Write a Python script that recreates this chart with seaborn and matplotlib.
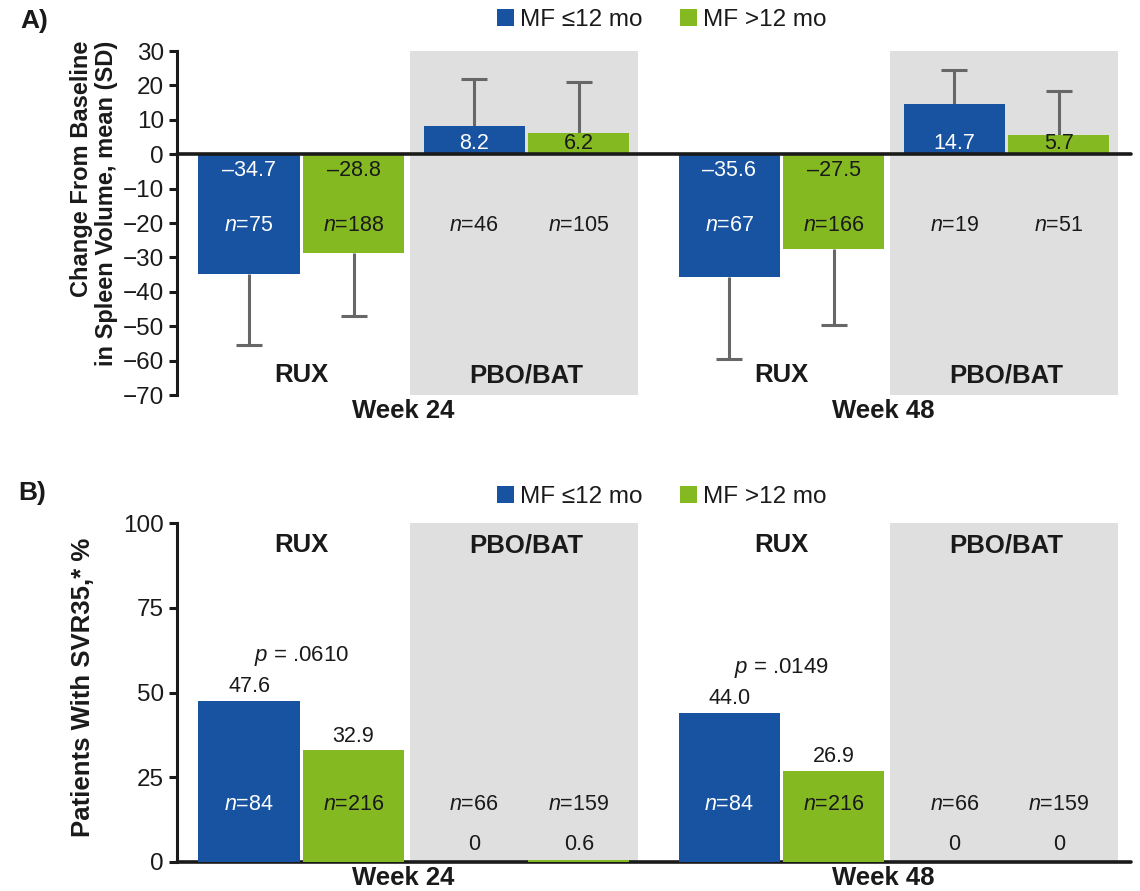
import numpy as np
import pandas as pd
import matplotlib
matplotlib.use("Agg")
import matplotlib.pyplot as plt
import seaborn as sns

# ---------------------------------------------------------------- data
weeks = ["Week 24", "Week 48"]
arms = ["RUX", "PBO/BAT"]
groups = ["MF ≤12 mo", "MF >12 mo"]

# A) change from baseline in spleen volume, mean (SD)
# order: week 24 RUX (≤12, >12), week 24 PBO/BAT, week 48 RUX, week 48 PBO/BAT
svc_mean = [-34.7, -28.8, 8.2, 6.2, -35.6, -27.5, 14.7, 5.7]
svc_sd = [20.8, 18.2, 13.8, 14.8, 24.0, 22.2, 9.9, 12.6]
svc_n = [75, 188, 46, 105, 67, 166, 19, 51]

# B) patients with SVR35, %
svr_pct = [47.6, 32.9, 0.0, 0.6, 44.0, 26.9, 0.0, 0.0]
svr_n = [84, 216, 66, 159, 84, 216, 66, 159]
p_values = [".0610", ".0149"]

# ---------------------------------------------------------------- style
BLUE = "#1753a0"
GREEN = "#84b922"
GRAY = "#e0dfe0"
ERR = "#676767"
INK = "#1a1a1a"

sns.set_theme(style="white")
plt.rcParams.update({
    "font.family": ["Liberation Sans", "DejaVu Sans"],
    "mathtext.fontset": "custom",
    "mathtext.rm": "Liberation Sans",
    "mathtext.it": "Liberation Sans:italic",
    "mathtext.bf": "Liberation Sans:bold",
    "text.color": INK,
})

# slot layout along x: gaps between neighbouring bars
pair_gap, arm_gap, week_gap = 1.0, 1.155, 1.44
steps = [0, pair_gap, arm_gap, pair_gap, week_gap, pair_gap, arm_gap, pair_gap]
slot_x = np.cumsum(steps).astype(float)
BAR_W = 0.967
XLIM = (-0.689, 8.44)

rows = []
for i in range(8):
    rows.append({
        "x": slot_x[i],
        "week": weeks[i // 4],
        "arm": arms[(i // 2) % 2],
        "group": groups[i % 2],
        "mean": svc_mean[i],
        "sd": svc_sd[i],
        "n_a": svc_n[i],
        "pct": svr_pct[i],
        "n_b": svr_n[i],
    })
df = pd.DataFrame(rows)
palette = {groups[0]: BLUE, groups[1]: GREEN}

fig = plt.figure(figsize=(11.4, 8.91), dpi=100)
L, W = 177 / 1140, (1131 - 177) / 1140
axA = fig.add_axes([L, 1 - 395 / 891, W, (395 - 51) / 891])
axB = fig.add_axes([L, 1 - 862 / 891, W, (862 - 523) / 891])


def shade_arms(ax):
    for wk in range(2):
        b = slot_x[wk * 4 + 2]
        g = slot_x[wk * 4 + 3]
        ax.axvspan(b - BAR_W / 2 - 0.13, g + BAR_W / 2 + 0.08,
                   color=GRAY, lw=0, zorder=0)


def style_axis(ax, ylim, yticks, zero_z):
    ax.set_xlim(*XLIM)
    ax.set_ylim(*ylim)
    ax.set_yticks(yticks)
    ax.set_xticks([])
    ax.set_xlabel("")
    ax.set_ylabel("")
    ax.set_facecolor("none")
    for s in ["top", "right", "bottom"]:
        ax.spines[s].set_visible(False)
    ax.spines["left"].set_linewidth(2.2)
    ax.spines["left"].set_color(INK)
    ax.tick_params(axis="y", left=True, direction="out", length=5.5,
                   width=2.2, pad=4, labelsize=17.5, colors=INK)
    ax.axhline(0, color=INK, lw=2.6, zorder=zero_z, clip_on=False)


def add_legend(ax, y):
    sns.move_legend(ax, "center", bbox_to_anchor=(0.508, y), ncol=2,
                    title=None, frameon=False, fontsize=17.5,
                    handlelength=0.7, handleheight=0.7, handletextpad=0.25,
                    columnspacing=1.55, borderaxespad=0)


def week_labels(ax):
    for wk in range(2):
        cx = slot_x[wk * 4: wk * 4 + 4].mean() - 0.1
        ax.annotate(weeks[wk], xy=(cx, 0), xycoords=("data", "axes fraction"),
                    xytext=(0, -11.5), textcoords="offset points",
                    ha="center", va="center", fontsize=18.5, fontweight="bold")


def arm_labels(ax, y):
    for wk in range(2):
        for a in range(2):
            i = wk * 4 + a * 2
            ax.text(slot_x[i: i + 2].mean(), y, arms[a], ha="center",
                    va="center", fontsize=18.5, fontweight="bold", zorder=5)


# ---------------------------------------------------------------- panel A
shade_arms(axA)
sns.barplot(data=df, x="x", y="mean", hue="group", hue_order=groups,
            palette=palette, native_scale=True, dodge=False, width=BAR_W,
            errorbar=None, saturation=1, linewidth=0, ax=axA, zorder=2)

xs = df["x"].to_numpy()
m = df["mean"].to_numpy()
s = df["sd"].to_numpy()
for sign, keep in ((-1, 0), (1, 1)):
    sel = np.sign(m) == sign
    lower = s[sel] if sign < 0 else np.zeros(sel.sum())
    upper = s[sel] if sign > 0 else np.zeros(sel.sum())
    cont = axA.errorbar(xs[sel], m[sel], yerr=[lower, upper], fmt="none",
                        ecolor=ERR, elinewidth=2.2, capsize=9.5,
                        capthick=2.2, zorder=1.5)
    cont.lines[1][1 - keep].set_visible(False)

N_Y_A = -20.8
for _, r in df.iterrows():
    blue = r["group"] == groups[0]
    txt = f"{r['mean']:.1f}".replace("-", "\u2013")
    vy = -4.7 if r["mean"] < 0 else 3.2
    axA.text(r["x"], vy, txt, ha="center", va="center", fontsize=15.5,
             color="white" if blue else INK, zorder=5)
    covered = r["mean"] < N_Y_A
    axA.text(r["x"], N_Y_A, f"$n$={r['n_a']}", ha="center", va="center",
             fontsize=15.5, color="white" if (blue and covered) else INK,
             zorder=5)

style_axis(axA, (-70, 30), np.arange(-70, 31, 10), zero_z=4)
arm_labels(axA, -64.2)
week_labels(axA)
add_legend(axA, 1.09)

# ---------------------------------------------------------------- panel B
shade_arms(axB)
sns.barplot(data=df, x="x", y="pct", hue="group", hue_order=groups,
            palette=palette, native_scale=True, dodge=False, width=BAR_W,
            errorbar=None, saturation=1, linewidth=0, ax=axB, zorder=2)

N_Y_B = 17.1
for _, r in df.iterrows():
    blue = r["group"] == groups[0]
    v = r["pct"]
    txt = "0" if v == 0 else f"{v:.1f}"
    axB.annotate(txt, xy=(r["x"], max(v, 1.0)), xytext=(0, 2.5),
                 textcoords="offset points", ha="center", va="bottom",
                 fontsize=15.5, color=INK, zorder=5)
    covered = v > N_Y_B
    axB.text(r["x"], N_Y_B, f"$n$={r['n_b']}", ha="center", va="center",
             fontsize=15.5, color="white" if (blue and covered) else INK,
             zorder=5)

for wk in range(2):
    i = wk * 4
    top = max(svr_pct[i], svr_pct[i + 1])
    axB.text(slot_x[i: i + 2].mean(), top + 13.3, f"$p$ = {p_values[wk]}",
             ha="center", va="center", fontsize=16, zorder=5)

style_axis(axB, (0, 100), [0, 25, 50, 75, 100], zero_z=1.9)
arm_labels(axB, 93.5)
week_labels(axB)
add_legend(axB, 1.077)

# ---------------------------------------------------------------- figure text
fig.text(94 / 1140, 1 - 41 / 891,
         "Change From Baseline\nin Spleen Volume, mean (SD)",
         rotation=90, ha="center", va="top", multialignment="right",
         fontsize=17, fontweight="bold", linespacing=1.1)
fig.text(83 / 1140, 1 - 687 / 891, "Patients With SVR35,* %",
         rotation=90, ha="center", va="center", fontsize=18.5,
         fontweight="bold")
fig.text(20 / 1140, 1 - 21 / 891, "A)", ha="left", va="center",
         fontsize=19, fontweight="bold")
fig.text(18 / 1140, 1 - 493 / 891, "B)", ha="left", va="center",
         fontsize=19, fontweight="bold")

fig.savefig("out.png", dpi=100)
